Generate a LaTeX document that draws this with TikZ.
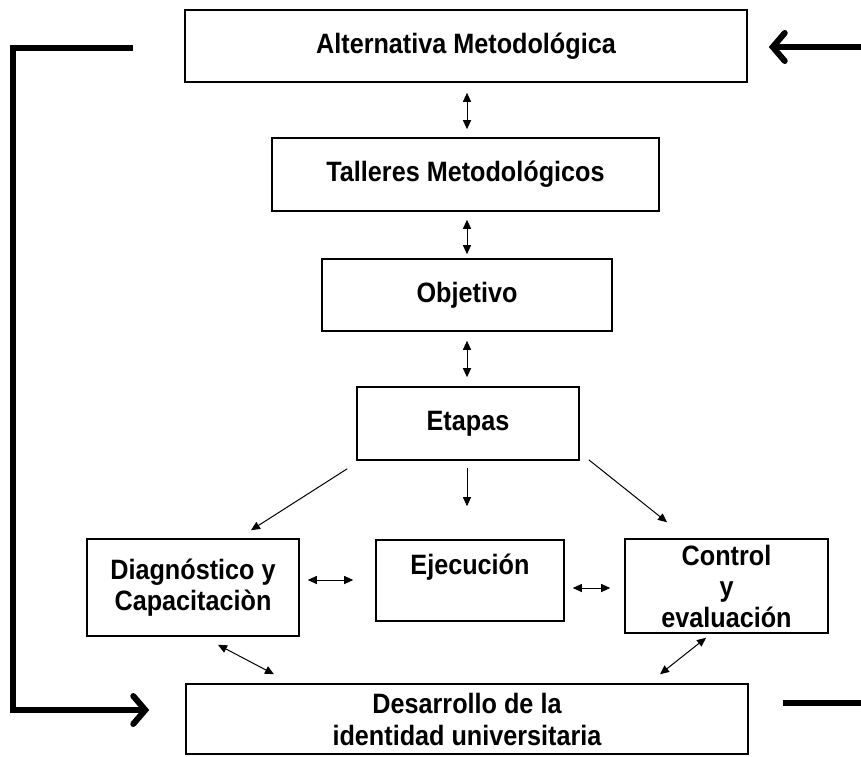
\documentclass[tikz,border=0pt]{standalone}
\usepackage{fontspec}
\setmainfont{Liberation Sans}[FakeStretch=0.9]
\usetikzlibrary{arrows.meta}

\begin{document}
\begin{tikzpicture}[x=1pt, y=-1pt,
    box/.style={draw, line width=1.6pt, font=\bfseries\fontsize{28}{31}\selectfont, align=center, inner sep=0pt},
    link/.style={line width=1pt, {Triangle[length=9pt,width=8pt]}-{Triangle[length=9pt,width=8pt]}},
    flow/.style={line width=1pt, -{Triangle[length=9pt,width=8pt]}},
    heavy/.style={line width=6pt},
    barb/.style={-{Straight Barb[length=12pt,width=28pt,line cap=round]}}]
    \useasboundingbox (0,0) rectangle (861,756);
    % boxes
    \node[box, minimum width=562pt, minimum height=72pt] (alt) at (466,46) {Alternativa Metodológica};
    \node[box, minimum width=387pt, minimum height=73pt] (tall) at (465.5,174.5) {Talleres Metodológicos};
    \node[box, minimum width=290pt, minimum height=72pt] (obj) at (467,295) {Objetivo};
    \node[box, minimum width=222pt, minimum height=73pt] (et) at (468,423.5) {Etapas};
    \node[box, minimum width=212pt, minimum height=97pt] (diag) at (193,587.5) {Diagnóstico y\\Capacitaciòn};
    \node[box, minimum width=188pt, text height=34pt, text depth=47pt] (ejec) at (470,580.5) {Ejecución};
    \node[box, minimum width=203pt, minimum height=94pt] (ctrl) at (726.5,586) {Control\\y\\evaluación};
    \node[box, minimum width=562pt, minimum height=70pt, font=\bfseries\fontsize{28}{32}\selectfont] (desa) at (467,719) {Desarrollo de la\\identidad universitaria};
    % free ends of the heavy lines
    \coordinate (inR) at (861,47);
    \coordinate (outR) at (861,703);
    % chain
    \draw[link] ([shift={(1,10)}]alt.south) -- ([shift={(1.5,-8)}]tall.north);
    \draw[link] ([shift={(1.5,8)}]tall.south) -- ([shift={(0,-4)}]obj.north);
    \draw[link] ([shift={(0,9)}]obj.south) -- ([shift={(-1,-9)}]et.north);
    \draw[flow] ([shift={(-1,7)}]et.south) -- ([shift={(-3,-33)}]ejec.north);
    \draw[flow] ([shift={(-9,8)}]et.south west) -- ([shift={(58,-8)}]diag.north);
    \draw[flow] ([shift={(9,-1)}]et.south east) -- ([shift={(-59.5,-16)}]ctrl.north);
    \draw[link] ([shift={(8,-7.5)}]diag.east) -- ([shift={(-22,-0.5)}]ejec.west);
    \draw[link] ([shift={(8,7.5)}]ejec.east) -- ([shift={(-14,2)}]ctrl.west);
    \draw[link] ([shift={(25,8)}]diag.south) -- ([shift={(-193,-9)}]desa.north);
    \draw[link] ([shift={(-20.5,4)}]ctrl.south) -- ([shift={(193,-9)}]desa.north);
    % heavy feedback lines
    \draw[heavy, barb] ([shift={(-51,2)}]alt.west) -- (13,48) -- (13,710) -- ([shift={(-36,-9)}]desa.west);
    \draw[heavy, barb] (inR) -- ([shift={(21,1)}]alt.east);
    \draw[heavy] ([shift={(34,-16)}]desa.east) -- (outR);
\end{tikzpicture}
\end{document}
